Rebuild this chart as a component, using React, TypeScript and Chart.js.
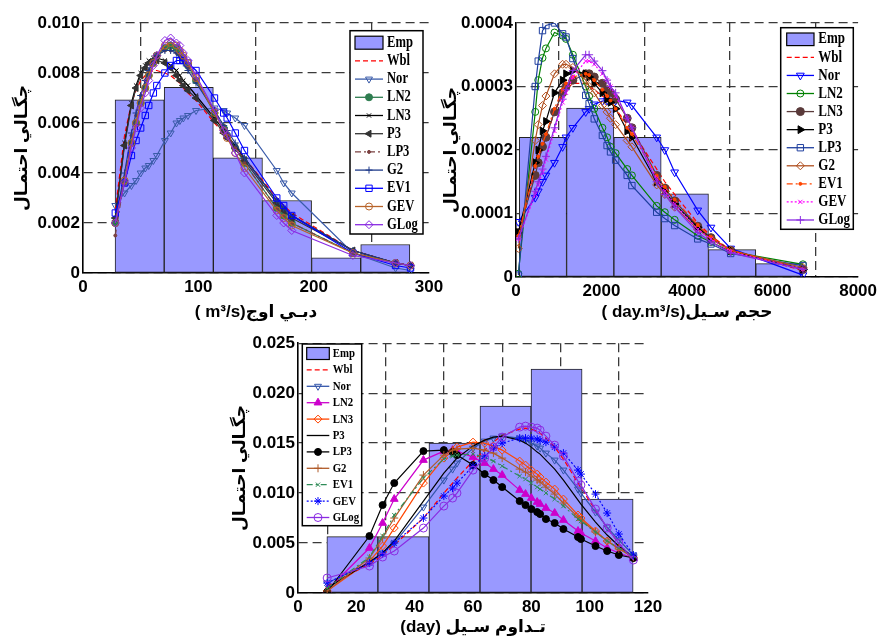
import React, { useEffect, useRef } from 'react';
import { Chart, registerables } from 'chart.js';
import { drawPoint } from 'chart.js/helpers';

Chart.register(...registerables);

const SERIES = ['Wbl', 'Nor', 'LN2', 'LN3', 'P3', 'LP3', 'G2', 'EV1', 'GEV', 'GLog'];

// ---------- Plot 1 : peak discharge (m3/s) ----------
const p1BinCenters = [49.1, 91.7, 134.3, 176.9, 219.5, 262.1];
const p1BinHeights = [0.00693, 0.00743, 0.00461, 0.0029, 0.00061, 0.00114];
const p1X = [28, 36, 42, 46, 50, 54, 57, 61, 64, 71, 76, 81, 84, 87, 91, 98, 114, 122, 125, 132, 140, 168, 174, 181, 234, 271, 284];
const p1Wbl = [0.0025, 0.0055, 0.0068, 0.0073, 0.0077, 0.0079, 0.0080, 0.0081, 0.0081, 0.0080, 0.0079, 0.0077, 0.0076, 0.0074, 0.0072, 0.0069, 0.0060, 0.0056, 0.0054, 0.0050, 0.0046, 0.0030, 0.0027, 0.0024, 0.0009, 0.0004, 0.0003];
const p1Nor = [0.0027, 0.0032, 0.0035, 0.0037, 0.0040, 0.0042, 0.0043, 0.0045, 0.0047, 0.0053, 0.0056, 0.0060, 0.0061, 0.0062, 0.0063, 0.0065, 0.0066, 0.0065, 0.0064, 0.0062, 0.0059, 0.0041, 0.0036, 0.0032, 0.0008, 0.0002, 0.0001];
const p1LN2 = [0.0020, 0.0036, 0.0052, 0.0060, 0.0068, 0.0074, 0.0079, 0.0084, 0.0087, 0.0090, 0.0091, 0.0090, 0.0088, 0.0086, 0.0083, 0.0077, 0.0064, 0.0058, 0.0055, 0.0050, 0.0044, 0.0026, 0.0023, 0.0020, 0.0008, 0.0004, 0.0003];
const p1LN3 = [0.0022, 0.0052, 0.0068, 0.0075, 0.0080, 0.0083, 0.0085, 0.0086, 0.0086, 0.0085, 0.0083, 0.0081, 0.0079, 0.0077, 0.0075, 0.0071, 0.0062, 0.0057, 0.0055, 0.0051, 0.0046, 0.0029, 0.0026, 0.0023, 0.0009, 0.0004, 0.0003];
const p1P3 = [0.0022, 0.0051, 0.0067, 0.0074, 0.0079, 0.0082, 0.0084, 0.0085, 0.0085, 0.0084, 0.0082, 0.0079, 0.0077, 0.0075, 0.0073, 0.0070, 0.0061, 0.0056, 0.0054, 0.0050, 0.0045, 0.0028, 0.0025, 0.0022, 0.0009, 0.0004, 0.0003];
const p1LP3 = [0.0015, 0.0038, 0.0055, 0.0063, 0.0071, 0.0077, 0.0081, 0.0085, 0.0087, 0.0089, 0.0089, 0.0088, 0.0087, 0.0085, 0.0082, 0.0077, 0.0065, 0.0059, 0.0056, 0.0050, 0.0044, 0.0026, 0.0023, 0.0020, 0.0008, 0.0004, 0.0003];
const p1G2 = [0.0021, 0.0040, 0.0056, 0.0064, 0.0071, 0.0077, 0.0081, 0.0085, 0.0087, 0.0089, 0.0089, 0.0088, 0.0086, 0.0084, 0.0081, 0.0076, 0.0065, 0.0059, 0.0057, 0.0052, 0.0046, 0.0029, 0.0026, 0.0023, 0.0009, 0.0004, 0.0003];
const p1EV1 = [0.0024, 0.0036, 0.0047, 0.0053, 0.0058, 0.0063, 0.0067, 0.0072, 0.0075, 0.0080, 0.0083, 0.0085, 0.0085, 0.0085, 0.0084, 0.0081, 0.0070, 0.0064, 0.0062, 0.0056, 0.0049, 0.0030, 0.0027, 0.0023, 0.0008, 0.0003, 0.0002];
const p1GEV = [0.0020, 0.0037, 0.0052, 0.0060, 0.0068, 0.0074, 0.0079, 0.0084, 0.0087, 0.0091, 0.0092, 0.0091, 0.0089, 0.0087, 0.0084, 0.0078, 0.0064, 0.0057, 0.0054, 0.0048, 0.0042, 0.0025, 0.0022, 0.0019, 0.0008, 0.0004, 0.0003];
const p1GLog = [0.0020, 0.0036, 0.0050, 0.0058, 0.0066, 0.0072, 0.0077, 0.0083, 0.0087, 0.0093, 0.0094, 0.0092, 0.0091, 0.0088, 0.0085, 0.0079, 0.0065, 0.0057, 0.0055, 0.0048, 0.0040, 0.0023, 0.0020, 0.0017, 0.0007, 0.0004, 0.0003];

// ---------- Plot 2 : flood volume (day.m3/s), values in units of 1e-4 ----------
const p2Unit = 1e-4;
const p2BinCenters = [630, 1736, 2842, 3948, 5054, 6160];
const p2BinHeights = [2.20, 2.66, 2.20, 1.31, 0.43, 0.21];
const p2X = [54, 450, 520, 620, 700, 900, 1090, 1170, 1330, 1630, 1710, 1830, 2020, 2130, 2210, 2330, 2600, 2710, 3290, 3480, 3710, 4250, 4560, 5020, 6710];
const p2Wbl = [0.6, 1.7, 1.85, 2.05, 2.2, 2.6, 2.85, 2.95, 3.05, 3.05, 3.0, 2.95, 2.85, 2.8, 2.75, 2.65, 2.4, 2.3, 1.7, 1.5, 1.3, 0.85, 0.65, 0.42, 0.1];
const p2Nor = [0.87, 1.25, 1.35, 1.5, 1.6, 1.8, 2.05, 2.2, 2.35, 2.6, 2.65, 2.72, 2.77, 2.78, 2.78, 2.78, 2.75, 2.7, 2.2, 2.0, 1.65, 1.05, 0.78, 0.45, 0.03];
const p2LN2 = [0.05, 2.6, 3.1, 3.45, 3.6, 3.85, 3.8, 3.75, 3.5, 3.0, 2.85, 2.65, 2.35, 2.2, 2.05, 1.95, 1.7, 1.6, 1.12, 1.02, 0.9, 0.65, 0.55, 0.4, 0.2];
const p2LN3 = [0.7, 1.6, 1.8, 2.05, 2.2, 2.6, 2.9, 3.0, 3.1, 3.2, 3.2, 3.15, 3.05, 2.95, 2.9, 2.8, 2.5, 2.35, 1.6, 1.4, 1.2, 0.8, 0.62, 0.42, 0.12];
const p2P3 = [0.7, 1.8, 2.0, 2.3, 2.45, 2.9, 3.1, 3.2, 3.25, 3.2, 3.15, 3.05, 2.9, 2.8, 2.75, 2.65, 2.3, 2.2, 1.5, 1.35, 1.15, 0.78, 0.6, 0.42, 0.12];
const p2LP3 = [0.03, 3.0, 3.4, 3.88, 3.96, 4.0, 3.83, 3.78, 3.44, 2.86, 2.73, 2.49, 2.23, 2.07, 1.97, 1.84, 1.60, 1.44, 1.02, 0.92, 0.81, 0.60, 0.52, 0.37, 0.18];
const p2G2 = [0.45, 2.15, 2.4, 2.7, 2.85, 3.2, 3.35, 3.35, 3.3, 3.1, 3.0, 2.9, 2.7, 2.6, 2.5, 2.4, 2.15, 2.05, 1.45, 1.3, 1.1, 0.75, 0.6, 0.42, 0.15];
const p2EV1 = [0.65, 1.75, 1.9, 2.1, 2.25, 2.65, 2.95, 3.05, 3.15, 3.2, 3.18, 3.1, 2.95, 2.85, 2.78, 2.65, 2.35, 2.25, 1.6, 1.42, 1.22, 0.82, 0.63, 0.42, 0.12];
const p2GEV = [0.6, 1.3, 1.45, 1.65, 1.85, 2.3, 2.75, 2.9, 3.15, 3.4, 3.4, 3.35, 3.2, 3.1, 3.0, 2.85, 2.5, 2.35, 1.55, 1.35, 1.15, 0.75, 0.6, 0.4, 0.12];
const p2GLog = [0.6, 1.35, 1.5, 1.7, 1.9, 2.35, 2.8, 2.95, 3.25, 3.5, 3.5, 3.4, 3.25, 3.1, 3.0, 2.9, 2.5, 2.35, 1.5, 1.3, 1.1, 0.7, 0.55, 0.38, 0.12];

// ---------- Plot 3 : flood duration (day) ----------
const p3BinCenters = [18.65, 36.15, 53.65, 71.15, 88.65, 106.15];
const p3BinHeights = [0.00565, 0.00565, 0.0150, 0.0187, 0.0224, 0.0094];
const p3X = [10, 24.5, 29, 33, 43, 50, 53, 54.5, 60, 64, 67, 70, 76, 78, 80, 82, 83, 85, 88, 91, 96, 97, 102, 106, 110, 115];
const p3Wbl = [0.0007, 0.0029, 0.0038, 0.0048, 0.0075, 0.0100, 0.0110, 0.0115, 0.0132, 0.0143, 0.0151, 0.0158, 0.0164, 0.0165, 0.0164, 0.0162, 0.0160, 0.0155, 0.0146, 0.0134, 0.0110, 0.0105, 0.0083, 0.0065, 0.0050, 0.0033];
const p3Nor = [0.0010, 0.0030, 0.0040, 0.0050, 0.0086, 0.0113, 0.0124, 0.0130, 0.0145, 0.0152, 0.0155, 0.0157, 0.0155, 0.0153, 0.0150, 0.0147, 0.0145, 0.0140, 0.0133, 0.0123, 0.0104, 0.0100, 0.0081, 0.0066, 0.0053, 0.0038];
const p3LN2 = [0.0003, 0.0045, 0.0070, 0.0094, 0.0133, 0.0142, 0.0143, 0.0142, 0.0136, 0.0130, 0.0124, 0.0118, 0.0103, 0.0099, 0.0095, 0.0091, 0.0089, 0.0085, 0.0080, 0.0073, 0.0062, 0.0060, 0.0052, 0.0045, 0.0040, 0.0035];
const p3LN3 = [0.0002, 0.0032, 0.0047, 0.0065, 0.0110, 0.0135, 0.0142, 0.0146, 0.0151, 0.0150, 0.0147, 0.0143, 0.0132, 0.0128, 0.0123, 0.0119, 0.0116, 0.0111, 0.0104, 0.0094, 0.0078, 0.0075, 0.0062, 0.0052, 0.0045, 0.0035];
const p3P3 = [0.0005, 0.0031, 0.0040, 0.0052, 0.0092, 0.0120, 0.0130, 0.0135, 0.0147, 0.0153, 0.0156, 0.0157, 0.0153, 0.0150, 0.0146, 0.0141, 0.0139, 0.0133, 0.0124, 0.0113, 0.0093, 0.0089, 0.0071, 0.0058, 0.0047, 0.0036];
const p3LP3 = [0.0001, 0.0057, 0.0088, 0.0110, 0.0142, 0.0143, 0.0141, 0.0138, 0.0128, 0.0119, 0.0113, 0.0106, 0.0092, 0.0088, 0.0084, 0.0081, 0.0079, 0.0074, 0.0070, 0.0064, 0.0056, 0.0054, 0.0047, 0.0042, 0.0038, 0.0035];
const p3G2 = [0.0002, 0.0035, 0.0055, 0.0075, 0.0118, 0.0138, 0.0143, 0.0144, 0.0145, 0.0143, 0.0140, 0.0135, 0.0124, 0.0121, 0.0117, 0.0113, 0.0111, 0.0106, 0.0099, 0.0090, 0.0076, 0.0073, 0.0061, 0.0052, 0.0044, 0.0036];
const p3EV1 = [0.0005, 0.0036, 0.0057, 0.0078, 0.0115, 0.0134, 0.0137, 0.0138, 0.0139, 0.0136, 0.0132, 0.0127, 0.0117, 0.0114, 0.0110, 0.0106, 0.0104, 0.0100, 0.0094, 0.0087, 0.0074, 0.0072, 0.0061, 0.0052, 0.0045, 0.0037];
const p3GEV = [0.0010, 0.0030, 0.0039, 0.0050, 0.0075, 0.0097, 0.0105, 0.0110, 0.0127, 0.0137, 0.0145, 0.0150, 0.0155, 0.0155, 0.0155, 0.0154, 0.0153, 0.0151, 0.0146, 0.0140, 0.0123, 0.0119, 0.0099, 0.0080, 0.0059, 0.0038];
const p3GLog = [0.0015, 0.0027, 0.0036, 0.0042, 0.0065, 0.0087, 0.0095, 0.0100, 0.0123, 0.0135, 0.0146, 0.0156, 0.0166, 0.0167, 0.0166, 0.0165, 0.0163, 0.0157, 0.0148, 0.0137, 0.0112, 0.0108, 0.0084, 0.0065, 0.0050, 0.0033];

const Y_TITLE = 'چگـالي احتمـال';
const X_TITLE_1 = '( m³/s)دبـي اوج';
const X_TITLE_2 = '( day.m³/s)حجم سـيل';
const X_TITLE_3 = '(day) تـداوم سـيل';

// ---------- styles ----------
type Style = { color: string; dash?: number[]; marker?: string | null; rot?: number; r?: number; filled?: boolean };
const DASH = [5, 3];
const DASHDOT = [6, 3, 2, 3];
const DOT = [2, 2];

const styles1: Style[] = [
  { color: '#ff0000', dash: DASH, marker: null },
  { color: '#3a5ba9', marker: 'triangle', rot: 180, r: 4, filled: false },
  { color: '#2e7d50', marker: 'circle', r: 3.5, filled: true },
  { color: '#000000', marker: 'crossRot', r: 3 },
  { color: '#333333', marker: 'triangle', rot: 270, r: 4, filled: true },
  { color: '#7a4040', dash: DASHDOT, marker: 'circle', r: 1.5, filled: true },
  { color: '#1f3b8a', marker: 'cross', r: 3.5 },
  { color: '#0000ff', marker: 'rect', r: 4.5, filled: false },
  { color: '#b8642a', marker: 'circle', r: 3.5, filled: false },
  { color: '#8a2be2', marker: 'rectRot', r: 4, filled: false },
];
const styles2: Style[] = [
  { color: '#ff0000', dash: DASH, marker: null },
  { color: '#0000ff', marker: 'triangle', rot: 180, r: 4.5, filled: false },
  { color: '#008000', marker: 'circle', r: 3.5, filled: false },
  { color: '#5a3a3a', marker: 'circle', r: 4, filled: true },
  { color: '#000000', marker: 'triangle', rot: 90, r: 4.5, filled: true },
  { color: '#1f3f9f', marker: 'rect', r: 4.5, filled: false },
  { color: '#b05020', marker: 'rectRot', r: 4, filled: false },
  { color: '#ff4500', dash: DASHDOT, marker: 'circle', r: 1.5, filled: true },
  { color: '#ff00ff', dash: DOT, marker: 'crossRot', r: 3 },
  { color: '#8a2be2', marker: 'cross', r: 4 },
];
const styles3: Style[] = [
  { color: '#ff0000', dash: DASH, marker: null },
  { color: '#3355aa', marker: 'triangle', rot: 180, r: 4, filled: false },
  { color: '#cc00cc', marker: 'triangle', r: 4.5, filled: true },
  { color: '#ff4500', marker: 'rectRot', r: 4, filled: false },
  { color: '#000000', marker: null },
  { color: '#000000', marker: 'circle', r: 3.5, filled: true },
  { color: '#b05a28', marker: 'cross', r: 4 },
  { color: '#2e8b57', dash: DASHDOT, marker: 'crossRot', r: 3 },
  { color: '#0000ff', dash: DOT, marker: 'star', r: 4 },
  { color: '#8a2be2', marker: 'circle', r: 4, filled: false },
];

type Legend = { x0: number; y0: number; x1: number; y1: number; firstY: number; step: number; lx0: number; lx1: number; tx: number; font: number; swH: number };

type Spec = {
  left: number; top: number; width: number; height: number;
  binCenters: number[]; binHeights: number[]; x: number[]; series: number[][]; unit: number; styles: Style[];
  xMax: number; xStep: number; yMax: number; yStep: number; yDec: number;
  xTitle: string; yAxisW: number; xAxisH: number; padTop: number; padRight: number; yTitlePad: number; xTitlePad: number;
  legend: Legend;
};

const SPECS: Spec[] = [
  {
    left: 0, top: 0, width: 450, height: 330,
    binCenters: p1BinCenters, binHeights: p1BinHeights, x: p1X, unit: 1,
    series: [p1Wbl, p1Nor, p1LN2, p1LN3, p1P3, p1LP3, p1G2, p1EV1, p1GEV, p1GLog], styles: styles1,
    xMax: 300, xStep: 100, yMax: 0.010, yStep: 0.002, yDec: 3,
    xTitle: X_TITLE_1, yAxisW: 83, xAxisH: 57, padTop: 23, padRight: 21, yTitlePad: 12, xTitlePad: 7,
    legend: { x0: 350, y0: 30.7, x1: 423, y1: 234, firstY: 42.7, step: 18.2, lx0: 355, lx1: 383, tx: 387, font: 12.6, swH: 13 },
  },
  {
    left: 440, top: 0, width: 441, height: 330,
    binCenters: p2BinCenters, binHeights: p2BinHeights, x: p2X, unit: p2Unit,
    series: [p2Wbl, p2Nor, p2LN2, p2LN3, p2P3, p2LP3, p2G2, p2EV1, p2GEV, p2GLog], styles: styles2,
    xMax: 8000, xStep: 2000, yMax: 0.0004, yStep: 0.0001, yDec: 4,
    xTitle: X_TITLE_2, yAxisW: 76, xAxisH: 53, padTop: 23, padRight: 19, yTitlePad: 1, xTitlePad: 7,
    legend: { x0: 340.7, y0: 27.7, x1: 413.3, y1: 229.3, firstY: 39.3, step: 18.07, lx0: 346.7, lx1: 374, tx: 378.3, font: 13, swH: 12.6 },
  },
  {
    left: 215, top: 330, width: 460, height: 309,
    binCenters: p3BinCenters, binHeights: p3BinHeights, x: p3X, unit: 1,
    series: [p3Wbl, p3Nor, p3LN2, p3LN3, p3P3, p3LP3, p3G2, p3EV1, p3GEV, p3GLog], styles: styles3,
    xMax: 120, xStep: 20, yMax: 0.025, yStep: 0.005, yDec: 3,
    xTitle: X_TITLE_3, yAxisW: 83, xAxisH: 46, padTop: 11, padRight: 27, yTitlePad: 15, xTitlePad: 1,
    legend: { x0: 87.3, y0: 14, x1: 146.7, y1: 195.7, firstY: 23.5, step: 16.4, lx0: 91.7, lx1: 114.3, tx: 117.7, font: 10.8, swH: 12 },
  },
];

const TICK_FONT = { family: '"Liberation Sans", Arial, sans-serif', size: 17, weight: 'bold' as const };
const TITLE_FONT = { family: '"Liberation Sans", "DejaVu Sans", sans-serif', size: 17, weight: 'bold' as const };

function legendPlugin(lg: Legend) {
  return {
    id: 'boxLegend',
    afterDraw(chart: any) {
      const ctx: CanvasRenderingContext2D = chart.ctx;
      ctx.save();
      ctx.setLineDash([]);
      ctx.fillStyle = '#ffffff';
      ctx.fillRect(lg.x0, lg.y0, lg.x1 - lg.x0, lg.y1 - lg.y0);
      ctx.strokeStyle = '#000';
      ctx.lineWidth = 1.5;
      ctx.strokeRect(lg.x0, lg.y0, lg.x1 - lg.x0, lg.y1 - lg.y0);
      chart.data.datasets.forEach((ds: any, i: number) => {
        const y = lg.firstY + i * lg.step;
        ctx.save();
        if (ds.type === 'bar') {
          ctx.fillStyle = ds.backgroundColor;
          ctx.fillRect(lg.lx0, y - lg.swH / 2, lg.lx1 - lg.lx0, lg.swH);
          ctx.strokeStyle = '#000';
          ctx.lineWidth = 1.2;
          ctx.strokeRect(lg.lx0, y - lg.swH / 2, lg.lx1 - lg.lx0, lg.swH);
        } else {
          ctx.strokeStyle = ds.borderColor;
          ctx.lineWidth = 1.3;
          ctx.setLineDash(ds.borderDash || []);
          ctx.beginPath();
          ctx.moveTo(lg.lx0, y);
          ctx.lineTo(lg.lx1, y);
          ctx.stroke();
          ctx.setLineDash([]);
          if (ds.pointRadius > 0) {
            ctx.fillStyle = ds.pointBackgroundColor;
            ctx.strokeStyle = ds.pointBorderColor;
            ctx.lineWidth = 1;
            drawPoint(ctx, { pointStyle: ds.pointStyle, rotation: ds.pointRotation, radius: ds.pointRadius, borderWidth: 1 } as any, (lg.lx0 + lg.lx1) / 2, y);
          }
        }
        ctx.restore();
        ctx.save();
        ctx.fillStyle = '#000';
        ctx.font = `bold ${lg.font}px "Liberation Serif", "Times New Roman", serif`;
        ctx.textBaseline = 'middle';
        ctx.textAlign = 'left';
        ctx.translate(lg.tx, y);
        ctx.scale(1, 1.25);
        ctx.fillText(ds.label, 0, 0);
        ctx.restore();
      });
      ctx.restore();
    },
  };
}

function buildChart(canvas: HTMLCanvasElement, s: Spec) {
  const datasets: any[] = [];
  datasets.push({
    type: 'bar', label: 'Emp',
    data: s.binCenters.map((x, i) => ({ x, y: s.binHeights[i] * s.unit })),
    backgroundColor: '#9999ff', borderColor: '#222', borderWidth: 1, borderSkipped: false,
    barPercentage: 1, categoryPercentage: 1, order: 100,
  });
  SERIES.forEach((name, i) => {
    const st = s.styles[i];
    const hasMarker = !!st.marker;
    datasets.push({
      type: 'line', label: name,
      data: s.x.map((x, j) => ({ x, y: s.series[i][j] * s.unit })),
      borderColor: st.color, borderWidth: 1.2, borderDash: st.dash || [],
      pointStyle: hasMarker ? st.marker : 'circle', pointRadius: hasMarker ? (st.r ?? 3.5) : 0,
      pointRotation: st.rot || 0,
      pointBackgroundColor: st.filled ? st.color : 'rgba(0,0,0,0)',
      pointBorderColor: st.color, pointBorderWidth: 1,
      fill: false, tension: 0, order: 9 - i,
    });
  });

  const gridOpts = { color: '#3a3a3a', lineWidth: 1.3, drawTicks: false };
  const borderOpts = { display: true, color: '#000', width: 1.6, dash: [9, 5] };

  return new Chart(canvas, {
    type: 'line',
    data: { datasets },
    options: {
      animation: false,
      responsive: false,
      events: [],
      layout: { padding: { left: 0, top: s.padTop, right: s.padRight, bottom: 0 } },
      plugins: { legend: { display: false }, tooltip: { enabled: false } },
      scales: {
        x: {
          type: 'linear', min: 0, max: s.xMax, offset: false,
          ticks: { stepSize: s.xStep, font: TICK_FONT, color: '#000', padding: 4, maxRotation: 0, autoSkip: false, callback: (v: any) => String(v) },
          grid: gridOpts,
          border: borderOpts,
          title: { display: true, text: s.xTitle, font: TITLE_FONT, color: '#000', padding: { top: 0, bottom: s.xTitlePad } },
          afterFit: (sc: any) => { sc.height = s.xAxisH; },
        },
        y: {
          type: 'linear', min: 0, max: s.yMax,
          ticks: { stepSize: s.yStep, font: TICK_FONT, color: '#000', padding: 3, autoSkip: false, callback: (v: any) => (Math.abs(v) < 1e-12 ? '0' : Number(v).toFixed(s.yDec)) },
          grid: gridOpts,
          border: borderOpts,
          title: { display: true, text: Y_TITLE, font: TITLE_FONT, color: '#000', padding: { top: s.yTitlePad, bottom: 0 } },
          afterFit: (sc: any) => { sc.width = s.yAxisW; },
        },
      },
    } as any,
    plugins: [legendPlugin(s.legend)],
  });
}

function Panel({ spec }: { spec: Spec }) {
  const ref = useRef<HTMLCanvasElement>(null);
  useEffect(() => {
    if (!ref.current) return;
    const chart = buildChart(ref.current, spec);
    return () => chart.destroy();
  }, [spec]);
  return (
    <canvas
      ref={ref}
      width={spec.width}
      height={spec.height}
      style={{ position: 'absolute', left: spec.left, top: spec.top, width: spec.width, height: spec.height }}
    />
  );
}

export default function App() {
  return (
    <div style={{ position: 'absolute', left: 0, top: 0, width: 881, height: 639, overflow: 'hidden', background: '#fff' }}>
      {SPECS.map((s, i) => (
        <Panel key={i} spec={s} />
      ))}
    </div>
  );
}
